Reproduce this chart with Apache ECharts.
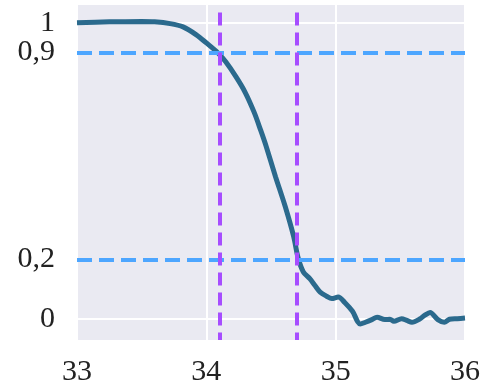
<!DOCTYPE html>
<html>
<head>
<meta charset="utf-8">
<script src="https://cdn.jsdelivr.net/npm/echarts@6/dist/echarts.min.js"></script>
<style>
  html, body { margin: 0; padding: 0; background: #fff; }
  #chart { width: 483px; height: 388px; }
</style>
</head>
<body>
<div id="chart"></div>
<script>
// curve samples
var xs = [33, 33.25, 33.5, 33.6, 33.72, 33.82, 33.92, 34.0, 34.09, 34.15, 34.23, 34.3, 34.37,
  34.42, 34.46, 34.535, 34.61, 34.675, 34.71, 34.75, 34.8, 34.84, 34.88, 34.93, 34.97,
  35.02, 35.07, 35.13, 35.19, 35.23, 35.28, 35.32, 35.38, 35.42, 35.45, 35.51, 35.55, 35.59,
  35.65, 35.69, 35.73, 35.79, 35.84, 35.88, 35.94, 36.0];
var ys = [1.0, 1.003, 1.004, 1.003, 0.997, 0.986, 0.96, 0.932, 0.898, 0.868, 0.817, 0.765, 0.697,
  0.637, 0.586, 0.48, 0.379, 0.278, 0.205, 0.158, 0.135, 0.112, 0.09, 0.076, 0.068,
  0.073, 0.055, 0.025, -0.018, -0.012, -0.003, 0.005, -0.003, -0.002, -0.009, 0.0, -0.006, -0.012,
  -0.001, 0.012, 0.021, -0.003, -0.012, -0.002, 0.0, 0.002];
// the top label sits too close to 0,9 for one axis, so it gets its own
var yTicksLow = [0, 0.2, 0.9];
var yTicksTop = [1];
var hLines = [0.9, 0.2];
var vLines = [34.1, 34.7];
var gridLines = [0, 1];

var yMin = -0.072, yMax = 1.06;
var font = "'Liberation Serif', serif";

var chart = echarts.init(document.getElementById("chart"));

var curve = xs.map(function (x, i) { return [x, ys[i]]; });

function yAxisWith(ticks) {
  return {
    type: "value", min: yMin, max: yMax, position: "left", offset: 0,
    axisLine: { show: false }, axisTick: { show: false },
    splitLine: { show: false },
    axisLabel: {
      customValues: ticks, showMinLabel: true, showMaxLabel: true,
      fontFamily: font, fontSize: 30, color: "#222", margin: 22,
      formatter: function (v) { return String(v).replace(".", ","); }
    }
  };
}

var option = {
  animation: false,
  grid: {
    left: 77, right: 16, top: 5, bottom: 48,
    show: true, backgroundColor: "#eaeaf2", borderWidth: 0
  },
  xAxis: {
    type: "value", min: 33, max: 36, interval: 1,
    axisLine: { show: false }, axisTick: { show: false },
    splitLine: { show: true, lineStyle: { color: "#fff", width: 2 } },
    axisLabel: { fontFamily: font, fontSize: 30, color: "#222", margin: 17 }
  },
  yAxis: [yAxisWith(yTicksLow), yAxisWith(yTicksTop)],
  series: [
    {
      // white grid lines at y = 0 and y = 1
      type: "line", data: [], z: 1, silent: true,
      markLine: {
        z: 1, silent: true, symbol: "none", label: { show: false },
        lineStyle: { color: "#fff", width: 2, type: "solid" },
        data: gridLines.map(function (v) { return { yAxis: v }; })
      }
    },
    {
      type: "line", data: curve, z: 2, showSymbol: false, silent: true, smooth: 0.3,
      lineStyle: { color: "#2b6a8d", width: 5 }
    },
    {
      type: "line", data: [], z: 5, silent: true,
      markLine: {
        z: 5, silent: true, symbol: "none", label: { show: false },
        lineStyle: { color: "#4da6ff", width: 4, type: [15, 7] },
        data: hLines.map(function (v) { return { yAxis: v }; })
      }
    },
    {
      type: "line", data: [], z: 6, silent: true,
      markLine: {
        z: 6, silent: true, symbol: "none", label: { show: false },
        lineStyle: { color: "#a64dff", width: 4, type: [13, 7] },
        data: vLines.map(function (v) { return [{ coord: [v, 1.035] }, { coord: [v, yMin] }]; })
      }
    }
  ]
};

chart.setOption(option);
</script>
</body>
</html>
